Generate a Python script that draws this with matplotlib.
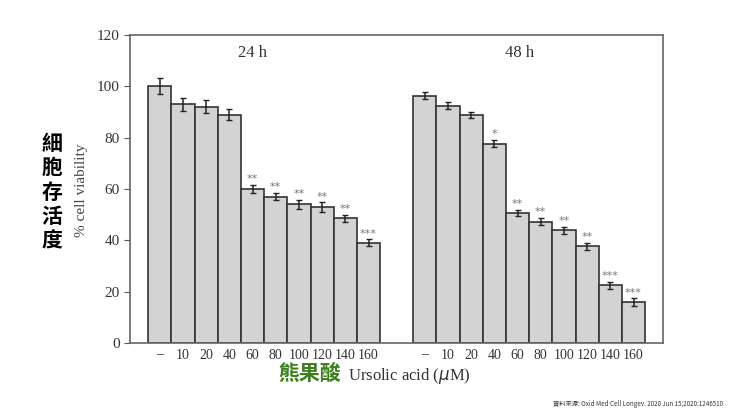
import numpy as np
import matplotlib
matplotlib.use("Agg")
import matplotlib.pyplot as plt

doses = ["\u2013", "10", "20", "40", "60", "80", "100", "120", "140", "160"]
v24 = [100, 93, 92, 89, 60, 57, 54, 53, 48.5, 39]
e24 = [3.2, 2.6, 2.6, 2.0, 1.7, 1.4, 1.8, 1.8, 1.4, 1.4]
s24 = ["", "", "", "", "**", "**", "**", "**", "**", "***"]
v48 = [96.3, 92.5, 88.8, 77.6, 50.6, 47.3, 43.9, 37.7, 22.5, 16.0]
e48 = [1.3, 1.3, 1.3, 1.4, 1.3, 1.3, 1.3, 1.3, 1.3, 1.4]
s48 = ["", "", "", "*", "**", "**", "**", "**", "***", "***"]

serif = "Liberation Serif"
cjk = ["Noto Sans CJK TC", "DejaVu Sans"]

fig = plt.figure(figsize=(7.4, 4.16), dpi=100)
ax = fig.add_axes([0.1757, 0.1755, 0.7203, 0.7405])

x24 = np.arange(10)
x48 = np.arange(10) + 11.42
for xs, vals, errs, stars in [(x24, v24, e24, s24), (x48, v48, e48, s48)]:
    ax.bar(xs, vals, width=1.0, color="#d3d3d3", edgecolor="#333333", linewidth=1.2)
    ax.errorbar(xs, vals, yerr=errs, fmt="none", ecolor="#222222", elinewidth=1.1, capsize=2.5)
    for xi, v, e, s in zip(xs, vals, errs, stars):
        if s:
            ax.text(xi, v + e + 0.3, s, ha="center", va="bottom", fontsize=8, color="#777777")

ax.set_xlim(-1.28, 21.69)
ax.set_ylim(0, 120)
ax.set_yticks(range(0, 121, 20))
ax.set_xticks(list(x24) + list(x48))
ax.set_xticklabels(doses + doses)
for lab in ax.get_xticklabels() + ax.get_yticklabels():
    lab.set_fontfamily(serif)
    lab.set_color("#333333")
ax.tick_params(axis="x", length=0, labelsize=10, pad=4)
ax.tick_params(axis="y", labelsize=11, direction="out", length=4, color="#555555")
for sp in ax.spines.values():
    sp.set_color("#666666")
    sp.set_linewidth(1.2)

ax.text(4.0, 113, "24 h", ha="center", va="center", family=serif, fontsize=12, color="#333333")
ax.text(15.5, 113, "48 h", ha="center", va="center", family=serif, fontsize=12, color="#333333")

fig.text(82 / 740, 1 - 190 / 416, "% cell viability", rotation=90, ha="center", va="center",
         family=serif, fontsize=11, color="#444444")
fig.text(52 / 740, 1 - 192 / 416, "細\n胞\n存\n活\n度", ha="center", va="center",
         family=cjk, fontsize=15, fontweight="bold", linespacing=1.2, color="black")
fig.text(310 / 740, 1 - 374 / 416, "熊果酸", ha="center", va="center", family=cjk,
         fontsize=15, fontweight="bold", color="#3d7f1f")
fig.text(348 / 740, 1 - 376 / 416, "Ursolic acid ($\\mu$M)", ha="left", va="center",
         family=serif, fontsize=12, color="#333333")
fig.text(553 / 740, 1 - 404 / 416, "資料來源: Oxid Med Cell Longev. 2020 Jun 15;2020:1246510",
         ha="left", va="center", family=cjk, fontsize=4.5, color="#333333")

fig.savefig("out.png", dpi=100)
